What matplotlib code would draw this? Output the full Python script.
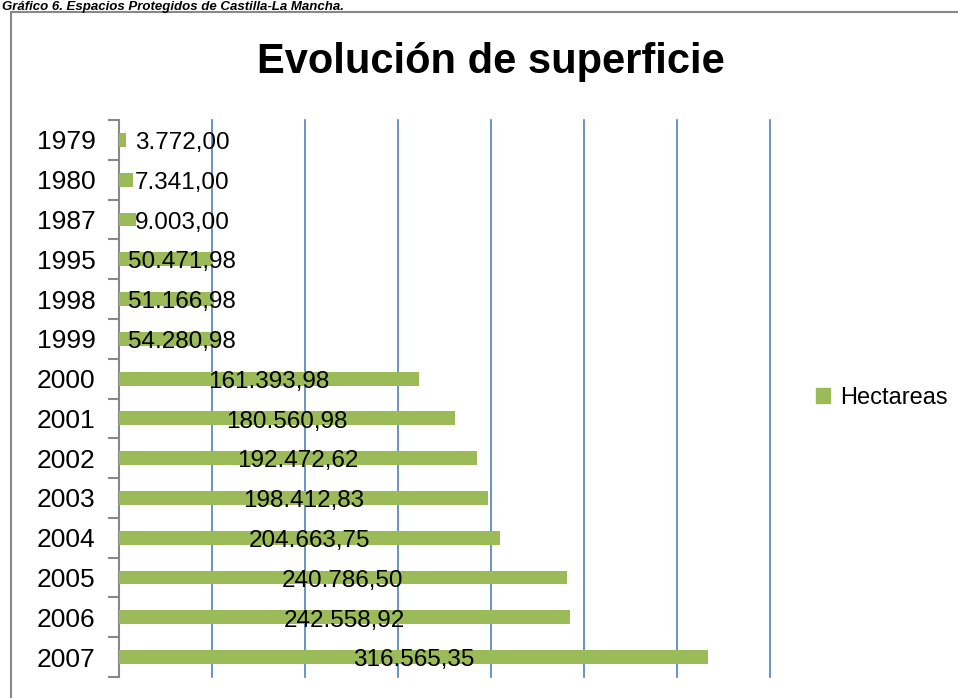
import matplotlib
matplotlib.use("Agg")
import matplotlib.pyplot as plt
from matplotlib.lines import Line2D

years = ["1979", "1980", "1987", "1995", "1998", "1999", "2000", "2001",
         "2002", "2003", "2004", "2005", "2006", "2007"]
hectareas = [3772.00, 7341.00, 9003.00, 50471.98, 51166.98, 54280.98, 161393.98,
             180560.98, 192472.62, 198412.83, 204663.75, 240786.50, 242558.92,
             316565.35]
labels = ["3.772,00", "7.341,00", "9.003,00", "50.471,98", "51.166,98", "54.280,98",
          "161.393,98", "180.560,98", "192.472,62", "198.412,83", "204.663,75",
          "240.786,50", "242.558,92", "316.565,35"]
title = "Evolución de superficie"
series_name = "Hectareas"
caption = "Gráfico 6. Espacios Protegidos de Castilla-La Mancha."

plt.rcParams['font.family'] = ['Liberation Sans', 'DejaVu Sans']

fig = plt.figure(figsize=(9.58, 6.98), dpi=100)
ax = fig.add_axes([119/958, 1-677/698, (770-119)/958, (677-120)/698])

pos = list(range(len(years)))
bar_color = "#9BBB59"
ax.barh(pos, hectareas, height=0.35, color=bar_color, label=series_name, zorder=3)

ax.set_xlim(0, 350000)
ax.set_ylim(len(years)-0.5, -0.5)
ax.set_xticks(range(50000, 350001, 50000))
ax.xaxis.grid(True, color="#4F81BD", linewidth=1.2, zorder=0)
for gl in ax.get_xgridlines():
    gl.set_clip_on(False)
ax.tick_params(axis='x', length=0, labelbottom=False)

ax.set_yticks([p - 0.5 for p in pos] + [len(years) - 0.5])
ax.set_yticklabels([])
ax.set_yticks(pos, minor=True)
ax.set_yticklabels(years, minor=True, fontsize=19)
ax.tick_params(axis='y', which='major', length=8, width=1.5, color="#888888", direction='out')
ax.tick_params(axis='y', which='minor', length=0, pad=17)

for s in ['top', 'right', 'bottom']:
    ax.spines[s].set_visible(False)
ax.spines['left'].set_color("#888888")
ax.spines['left'].set_linewidth(1.5)

for p, v, lab in zip(pos, hectareas, labels):
    ax.text(max(v/2, 34000), p + 0.08, lab, ha='center', va='center', fontsize=17.5, zorder=4)

fig.text(491/958, 1-62/698, title, ha='center', va='center', fontsize=30,
         fontweight='bold')

fig.legend(handles=[plt.Rectangle((0, 0), 1, 1, color=bar_color)], labels=[series_name],
           loc='center left', bbox_to_anchor=(795/958, 1-398/698), frameon=False,
           fontsize=17, handlelength=0.6, handleheight=0.6, handletextpad=0.4)

fig.text(0.002, 1-1/698, caption, ha='left', va='top', fontsize=9.5,
         fontweight='bold', fontstyle='italic')

fig.add_artist(Line2D([11/958, 11/958], [0, 1-12/698], transform=fig.transFigure,
                      color="#888888", linewidth=1.5))
fig.add_artist(Line2D([11/958, 1], [1-12/698, 1-12/698], transform=fig.transFigure,
                      color="#888888", linewidth=1.5))

fig.savefig("out.png", dpi=100)
